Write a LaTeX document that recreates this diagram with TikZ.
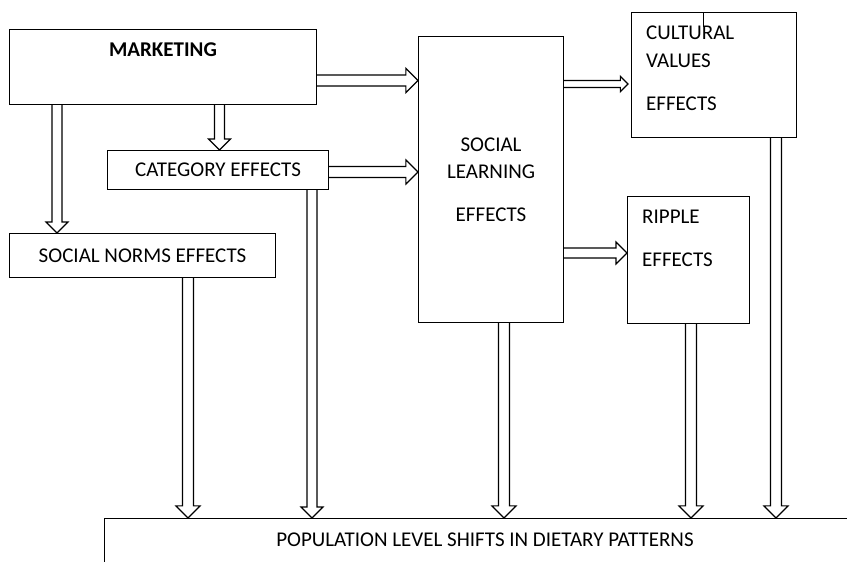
\documentclass[tikz,border=0pt]{standalone}
\usepackage{fontspec}
\setmainfont{Carlito}
\usetikzlibrary{calc}

% hollow block arrows (shaft half width as optional argument)
\newcommand{\fatright}[3][5.5]{%
  \draw[fat] let \p1=(#2), \p2=(#3) in
    (\x1,\y1+#1pt) -- (\x2-2.2*#1pt,\y1+#1pt) -- (\x2-2.2*#1pt,\y1+2.2*#1pt) -- (\x2,\y1)
    -- (\x2-2.2*#1pt,\y1-2.2*#1pt) -- (\x2-2.2*#1pt,\y1-#1pt) -- (\x1,\y1-#1pt);}
\newcommand{\fatdown}[3][5.5]{%
  \draw[fat] let \p1=(#2), \p2=(#3) in
    (\x1-#1pt,\y1) -- (\x1-#1pt,\y2+2.2*#1pt) -- (\x1-2.2*#1pt,\y2+2.2*#1pt) -- (\x1,\y2)
    -- (\x1+2.2*#1pt,\y2+2.2*#1pt) -- (\x1+#1pt,\y2+2.2*#1pt) -- (\x1+#1pt,\y1);}

\tikzset{
  box/.style={draw, line width=1.1pt, anchor=north west, inner sep=0pt, align=center},
  lbl/.style={inner sep=0pt, align=left},
  fat/.style={draw, fill=white, line width=1.1pt, line join=miter},
}

\begin{document}
\begin{tikzpicture}[x=1pt, y=-1pt, font=\fontsize{21}{27}\selectfont]
                        \useasboundingbox (0,0) rectangle (847,562);

                        % Drawing box MARKETING
                        \node[box, minimum width=307pt, minimum height=75pt] (mk) at (9,29) {};%
                        \node[inner sep=0pt, font=\fontsize{21}{27}\selectfont\bfseries] (mktext) at (163,50) {MARKETING};%

                        % Drawing box CATEGORY EFFECTS
                        \node[box, minimum width=221pt, minimum height=39pt] (cat) at (107,150) {CATEGORY EFFECTS};%

                        % Drawing box SOCIAL NORMS EFFECTS
                        \node[box, minimum width=266pt, minimum height=44pt] (sn) at (9,233) {SOCIAL NORMS EFFECTS};%

                        % Drawing box SOCIAL LEARNING EFFECTS
                        \node[box, minimum width=145pt, minimum height=286pt] (sl) at (418,36) {SOCIAL\\LEARNING\\[16pt]EFFECTS};%

                        % Drawing box CULTURAL VALUES EFFECTS
                        \node[box, minimum width=165pt, minimum height=125pt] (cv) at (631,12) {};%
                        \node[lbl, anchor=west] (cvtext) at (646,68.5) {CULTURAL\\[1pt]VALUES\\[16pt]EFFECTS};%
                        \draw[line width=0.6pt] (cv.north -| 703,0) -- ++(0,15);%

                        % Drawing box RIPPLE EFFECTS
                        \node[box, minimum width=122pt, minimum height=127pt] (rp) at (627,196) {};%
                        \node[lbl, anchor=west] (rptext) at (642,238.5) {RIPPLE\\[16pt]EFFECTS};%

                        % Drawing box POPULATION LEVEL SHIFTS
                        \node[box, minimum width=800pt, minimum height=100pt] (pop) at (104,518) {};%
                        \node[inner sep=0pt] (poptext) at (485,540) {POPULATION LEVEL SHIFTS IN DIETARY PATTERNS};%

                        % Drawing arrows out of MARKETING
                        \fatright{mk.east |- 0,80.5}{sl.west}%
                        \fatdown[5]{mk.south -| 57,0}{sn.north}%
                        \fatdown[5]{mk.south -| 219.5,0}{cat.north}%

                        % Drawing arrow CATEGORY to SOCIAL LEARNING
                        \fatright{cat.east |- 0,172}{sl.west}%

                        % Drawing arrows out of SOCIAL LEARNING
                        \fatright[3.5]{sl.east |- 0,84}{[xshift=-3pt]cv.west}%
                        \fatright[5]{sl.east |- 0,253}{rp.west}%

                        % Drawing arrows into POPULATION LEVEL SHIFTS
                        \fatdown{sn.south -| 188,0}{pop.north}%
                        \fatdown[5]{cat.south -| 312,0}{pop.north}%
                        \fatdown{sl.south -| 504,0}{pop.north}%
                        \fatdown{rp.south -| 691,0}{pop.north}%
                        \fatdown{cv.south -| 776,0}{pop.north}%
\end{tikzpicture}
\end{document}
